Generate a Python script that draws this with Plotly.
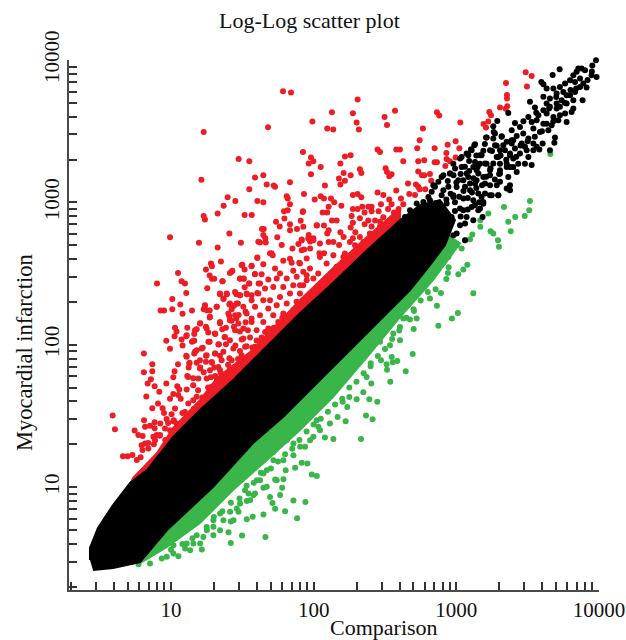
import numpy as np
import plotly.graph_objects as go

# All values are log10 of expression.
red_points = """
1.785,3.781 1.841,3.771 1.991,3.568 1.680,3.528 1.229,3.495 1.925,3.354 1.474,3.305 1.549,3.289 1.981,3.315 1.998,3.289
1.965,3.273 1.981,3.198 1.589,3.174 1.647,3.191 1.213,3.158 1.834,3.141 1.671,3.125 1.720,3.118 1.729,3.109 1.549,3.092
1.932,3.059 1.811,3.043 1.818,3.027 1.397,3.036 2.007,3.020 1.451,3.010 1.605,3.010 1.647,3.001 1.834,2.987 1.369,2.977
1.792,2.938 1.818,2.945 1.925,2.938 1.327,2.921 1.516,2.912 1.566,2.912 1.229,2.905 1.238,2.879 1.795,2.886 1.736,2.863
1.909,2.870 1.834,2.846 2.023,2.837 1.762,2.830 1.638,2.813 1.650,2.813 1.834,2.804 1.883,2.813 1.409,2.781 0.993,2.755
1.647,2.771 1.745,2.755 1.965,2.771 1.661,2.748 1.998,2.748 1.916,2.739
2.308,3.722 2.128,3.633 2.275,3.626 2.570,3.643 2.497,3.600 2.864,3.633 2.880,3.610 3.028,3.561 2.301,3.561 2.514,3.544
2.095,3.518 2.137,3.511 2.317,3.511 2.766,3.518 2.743,3.436 2.995,3.429 2.939,3.404 2.726,3.380 2.848,3.380 3.021,3.380
2.448,3.371 2.465,3.354 2.579,3.371 2.605,3.371 2.930,3.347 2.219,3.322 2.259,3.331 2.733,3.289 2.775,3.296 2.628,3.289
2.848,3.282 2.864,3.282 2.932,3.305 2.955,3.289 2.995,3.315 2.187,3.273 2.923,3.256 2.049,3.249 2.504,3.240 2.324,3.233
2.334,3.207 2.210,3.207 2.514,3.214 2.733,3.216 2.546,3.198 2.530,3.184 2.759,3.191 2.775,3.191 2.815,3.200 2.259,3.191
2.177,3.167 2.219,3.151 2.187,3.125 2.824,3.151 2.661,3.132 2.717,3.125 2.733,3.109 2.743,3.092 2.782,3.092 2.079,3.118
2.579,3.083 2.448,3.069 2.308,3.059 2.275,3.052 2.334,3.036 2.488,3.052 2.670,3.059 2.710,3.052 2.049,3.043 2.072,3.027
2.121,3.027 2.530,3.020 2.612,3.027 2.144,3.000 2.472,2.987 2.546,2.987 2.628,2.987 2.194,2.977 2.105,2.970 2.341,2.970
2.406,2.970 2.383,2.970 2.275,2.954 2.308,2.954 2.521,2.954 2.595,2.954 2.063,2.928 2.095,2.928 2.455,2.938 2.563,2.928
2.586,2.912 2.357,2.928 2.406,2.938 2.266,2.905 2.488,2.895 2.324,2.888 2.128,2.872 2.161,2.872 2.383,2.872 2.430,2.872
2.465,2.863 2.275,2.856 2.072,2.837 2.357,2.846 2.406,2.830 2.259,2.823 2.465,2.830 2.105,2.804 2.187,2.790 2.292,2.790
2.095,2.781 2.210,2.757 2.275,2.748 2.324,2.757 2.394,2.781
1.624,2.718 1.664,2.718 1.776,2.701 1.851,2.676 1.893,2.708 1.916,2.732 1.975,2.725 1.933,2.669 1.998,2.734 2.040,2.643
2.073,2.643 1.704,2.643 1.834,2.603 1.713,2.629 2.105,2.722 2.178,2.701 1.975,2.676
1.196,2.716 1.327,2.683 1.490,2.716 1.612,2.723 1.605,2.610 1.350,2.585 1.280,2.571 1.287,2.552 1.500,2.561 1.565,2.552
1.245,2.528 1.516,2.528 1.430,2.519 1.413,2.503 1.049,2.503 1.588,2.496 1.271,2.486 1.287,2.463 1.303,2.463 1.483,2.463
1.511,2.463 1.074,2.446 1.098,2.430 1.362,2.446 0.902,2.430 1.549,2.430 1.516,2.404 1.254,2.397 1.614,2.430 1.107,2.364
1.343,2.355 1.392,2.355 1.458,2.355 1.483,2.348 1.532,2.355 1.565,2.348 1.605,2.364 1.009,2.322 1.369,2.322 1.065,2.282
1.409,2.282 1.441,2.273 1.469,2.290 1.320,2.266 1.238,2.273 0.927,2.240 0.951,2.240 1.009,2.250 1.147,2.240 1.229,2.250
1.271,2.240 1.425,2.250 1.081,2.217 1.271,2.191 1.409,2.200 1.523,2.231 1.474,2.208 1.565,2.184 1.205,2.151 1.343,2.151
1.425,2.168 1.458,2.184 1.523,2.158 1.028,2.119 1.114,2.119 1.245,2.126 1.180,2.109 1.385,2.119 1.441,2.126 1.039,2.093
1.359,2.109 1.261,2.086 1.163,2.076 1.310,2.076 1.025,2.060 1.107,2.060 1.376,2.053 1.483,2.093 1.539,2.102 0.967,2.027
1.074,2.037 1.147,2.020 1.163,2.027 1.271,2.020 1.507,2.044 1.081,1.994 1.336,2.004 1.385,2.004 1.451,1.994 0.993,1.971
1.222,1.978 1.180,1.962 1.310,1.938 1.163,1.938 0.810,1.938 1.483,1.955 1.107,1.922 1.245,1.922 1.343,1.922 1.409,1.905
0.869,1.863 1.049,1.863 1.130,1.873 1.180,1.873 1.245,1.880 1.287,1.873 1.124,1.840 0.810,1.807 0.869,1.814 1.025,1.814
1.205,1.840 1.303,1.840 1.229,1.807 1.343,1.823 1.016,1.772 1.114,1.781 0.859,1.758 1.278,1.772 1.156,1.765
0.591,1.503 0.607,1.407 0.745,1.397 0.771,1.365 0.801,1.358 0.811,1.470 0.818,1.423 0.853,1.430 0.885,1.456 0.885,1.414
0.925,1.447 0.869,1.554 0.909,1.587 0.941,1.554 0.951,1.521 0.827,1.636 0.993,1.620 0.918,1.669 0.885,1.709 0.836,1.728
0.967,1.728 1.016,1.653 1.044,1.709 1.058,1.685 1.110,1.685 1.051,1.646 1.068,1.620 1.004,1.512 0.969,1.479 1.016,1.463
1.039,1.447 0.876,1.353 0.899,1.365 0.923,1.365 0.818,1.306 0.794,1.294 0.841,1.271 0.888,1.329 0.958,1.411 0.993,1.400
0.663,1.217 0.696,1.217 0.729,1.226 0.787,1.210 1.121,1.587 1.156,1.610 1.098,1.528 1.133,1.505 1.180,1.634 1.028,1.552
1.923,2.933 1.927,2.828 2.021,2.839 1.962,2.746 2.044,2.711 2.138,2.722 2.254,2.722 2.348,2.722 2.430,2.769 1.916,2.664
2.044,2.617 2.138,2.629 2.208,2.617 2.290,2.699 2.360,2.687 1.904,2.570 1.974,2.535 2.091,2.570 2.161,2.547 2.219,2.640
1.951,2.453 2.032,2.500 2.079,2.453 1.904,2.418 1.974,2.359 1.927,2.312
3.061,4.109 3.070,4.085 3.119,4.083 3.528,4.104 3.544,4.092 3.586,4.052 3.462,4.020 3.486,3.914 3.528,3.888 3.495,3.813
3.348,3.839 3.355,3.755 3.355,3.729 3.306,3.666 3.357,3.675 3.346,3.657 3.231,3.635 3.243,3.612 3.224,3.568 3.191,3.551
3.208,3.525
1.605,2.612 1.694,2.641 1.787,2.589 1.846,2.575 1.899,2.575 1.951,2.605 1.495,2.559 1.565,2.554 1.647,2.566 1.729,2.535
1.764,2.500 1.857,2.519 1.927,2.512 1.589,2.495 1.635,2.495 1.425,2.512 1.682,2.458 1.624,2.430 1.547,2.430 1.484,2.465
1.507,2.465 1.360,2.446 1.741,2.465 1.811,2.465 1.881,2.477 1.951,2.488 1.998,2.465 1.449,2.371 1.343,2.360 1.390,2.360
1.530,2.360 1.612,2.360 1.659,2.395 1.717,2.406 1.787,2.406 1.857,2.418 1.927,2.418 1.367,2.324 1.484,2.348 1.565,2.313
1.647,2.313 1.694,2.313 1.764,2.336 1.834,2.360 1.904,2.360 1.413,2.289 1.460,2.289 1.320,2.266 1.238,2.278 1.250,2.242
1.507,2.266 1.589,2.266 1.682,2.254 1.741,2.278 1.811,2.289 1.881,2.301 1.402,2.219 1.449,2.207 1.530,2.219 1.624,2.207
1.717,2.207 1.787,2.219 1.857,2.242 1.273,2.196 1.343,2.160 1.413,2.172 1.472,2.149 1.565,2.160 1.647,2.160 1.752,2.160
1.834,2.196 1.203,2.149 1.250,2.114 1.308,2.079 1.378,2.055 1.449,2.102 1.507,2.114 1.600,2.102 1.682,2.114 1.168,2.102
1.110,2.067 1.156,2.027 1.262,2.020 1.332,2.001 1.413,2.032 1.495,2.036 1.554,2.050 1.635,2.050 1.705,2.055 1.215,1.973
1.168,1.950 1.250,1.926 1.308,1.938 1.367,1.950 1.437,1.973 1.519,1.985 1.589,1.985 1.647,1.997 1.110,1.915 1.128,1.868
1.203,1.891 1.285,1.879 1.355,1.891 1.425,1.891 1.495,1.926 1.565,1.926 1.203,1.833 1.273,1.821 1.332,1.844 1.413,1.833
1.507,1.856 1.121,1.774 1.192,1.762 1.250,1.762 1.320,1.762 1.367,1.751 1.449,1.786 1.156,1.716 1.285,1.704 1.367,1.692
0.76,1.19 0.80,1.26 0.84,1.31 0.88,1.30 0.92,1.36 0.96,1.33 0.98,1.45 1.02,1.47 1.05,1.43 1.08,1.52
1.12,1.50 1.16,1.55 1.19,1.68 1.22,1.63 1.26,1.70 1.28,1.66 1.31,1.78 1.35,1.80 1.38,1.76 1.40,1.86
1.44,1.84 1.47,1.90 1.50,1.88 1.53,1.99 1.57,1.98 1.60,2.03 1.63,2.02 1.66,2.09 1.69,2.07 1.72,2.12
1.75,2.10 1.78,2.19 1.81,2.18 1.84,2.22 1.87,2.21 1.90,2.27 1.93,2.31 1.96,2.29 1.99,2.35 2.02,2.40
2.05,2.38 2.08,2.45 2.11,2.42 2.14,2.50 2.17,2.54 2.20,2.52 2.23,2.58 2.26,2.60 2.29,2.58 2.32,2.64
2.35,2.68 2.38,2.66 2.41,2.72 2.44,2.76 2.47,2.74 2.50,2.80 2.53,2.83 2.56,2.86
"""

green_points = """
3.516,3.010 3.334,2.968 3.511,2.945 3.479,2.905 3.413,2.898 3.364,2.863 3.381,2.797 3.224,2.921 3.168,2.874 3.168,2.828
3.240,2.797 3.259,2.781 3.292,2.734 3.299,2.689 3.112,2.774 3.096,2.741 3.061,2.734 3.037,2.675 3.002,2.699 2.967,2.664
2.944,2.617 3.077,2.561 3.049,2.528 3.014,2.495 2.946,2.544 2.941,2.504 2.930,2.462 2.904,2.570 2.862,2.535 2.815,2.488
3.119,2.362 2.855,2.390 2.892,2.364 2.815,2.324 2.768,2.406 2.722,2.383 2.864,2.273 3.011,2.223 2.969,2.184 2.874,2.134
2.703,2.237 2.722,2.184 2.675,2.177 2.628,2.184 2.701,2.111 2.605,2.125 2.558,2.078 2.605,2.031 2.535,1.996 2.694,1.935
2.465,2.020 2.547,1.914 2.472,1.891 2.511,1.863 2.554,1.877 2.586,1.886 2.514,1.825 2.645,1.814 2.399,1.849 2.371,1.774
2.537,1.739 2.404,1.727 2.348,1.666 2.390,1.617 2.446,1.600 2.301,1.617 2.250,1.633 2.203,1.600 2.236,1.563 2.168,1.493
2.224,1.462 2.367,1.502 2.413,1.476 2.044,1.399 2.079,1.348 2.138,1.338 2.332,1.338 2.114,1.446 2.021,1.469
3.659,3.340
1.662,0.650 1.498,0.660 1.419,0.608 1.403,0.683 1.419,0.758 1.531,0.774 1.573,0.791 1.648,0.807 1.800,0.831 1.884,0.781
1.942,0.896 1.858,0.906 1.730,0.847 1.711,0.889 1.694,0.931 1.765,0.945 1.779,0.995 1.987,1.088 2.022,1.077 1.956,1.166
1.916,1.170 1.870,1.135 1.804,1.119 1.788,1.055 1.730,1.053 1.648,0.995 1.589,0.955 1.531,0.903 1.473,0.826 1.367,0.767
1.297,0.662 1.216,0.561 1.204,0.603 1.134,0.557 1.052,0.514 0.935,0.498 0.853,0.463 0.772,0.458 1.017,0.592 1.110,0.603
1.251,0.697 1.344,0.697 1.438,0.767 1.543,0.955 1.624,1.048 1.718,1.247 1.811,1.329 1.940,1.283 1.998,1.353 1.858,1.224
1.671,1.119
1.297,0.767 1.227,0.650 1.157,0.603 1.297,0.721 1.414,0.826 1.484,0.884 1.578,0.943 1.671,1.002 1.741,1.048 1.554,0.908
1.344,0.814 1.461,0.849 1.648,1.095 1.788,1.189 1.905,1.283 1.975,1.329 2.033,1.423 1.858,1.306 1.718,1.189 1.601,1.048
1.519,0.978 1.017,0.533 0.970,0.510 1.099,0.568 1.180,0.662
1.00,0.56 1.08,0.60 1.15,0.64 1.25,0.72 1.30,0.79 1.36,0.83 1.42,0.89 1.48,0.92 1.53,1.01 1.58,1.03
1.63,1.10 1.70,1.13 1.75,1.18 1.80,1.23 1.85,1.27 1.90,1.33 1.95,1.39 2.00,1.44 2.05,1.48 2.10,1.53
2.15,1.58 2.20,1.62 2.25,1.70 2.30,1.74 2.35,1.80 2.40,1.87 2.45,1.92 2.50,1.97 2.55,2.04 2.60,2.10
2.65,2.19 2.70,2.25 2.75,2.31 2.80,2.37
"""

black_points = """
4.166,4.066 4.019,4.059 3.790,4.010 4.016,4.010 3.979,3.998 3.953,3.961 4.068,3.952 3.724,3.935 3.675,3.895 3.878,3.940
3.843,3.917 3.902,3.928 3.948,3.893 4.007,3.917 3.983,3.881 3.596,3.846 3.610,3.830 3.797,3.858 3.762,3.835 3.726,3.811
3.680,3.799 3.832,3.846 3.867,3.870 3.890,3.835 3.913,3.806 3.610,3.741 3.656,3.729 3.703,3.764 3.516,3.706 3.551,3.666
3.633,3.694 3.738,3.717 3.773,3.694 3.797,3.753 3.832,3.776 3.885,3.717 3.820,3.659 3.762,3.624 3.703,3.659 3.808,3.635
3.364,3.628 3.287,3.572 3.505,3.600 3.575,3.612 3.633,3.624 3.680,3.600 3.715,3.577 3.773,3.565 3.411,3.558 3.388,3.507
3.446,3.530 3.528,3.565 3.610,3.553 3.668,3.542 3.259,3.535 3.271,3.483 3.208,3.455 3.318,3.460 3.423,3.467 3.540,3.518
3.586,3.495 3.645,3.507 3.691,3.455 3.687,3.418 3.605,3.413 3.582,3.371 3.656,3.366 3.505,3.448 3.388,3.413 3.329,3.401
3.283,3.397 3.126,3.401 3.107,3.366 3.084,3.331 3.177,3.331 3.236,3.366 3.306,3.366 3.353,3.425 3.411,3.378 3.481,3.390
3.540,3.413 3.528,3.263 3.481,3.272 3.505,3.319 3.434,3.272 3.399,3.308 3.423,3.214 3.376,3.120 3.376,3.085 3.306,3.144
3.294,3.050 3.248,3.050 3.201,3.062 3.119,3.249 3.026,3.308 2.979,3.272 3.306,3.272 3.236,3.226 3.166,3.272 3.072,3.202
2.909,3.190 2.839,3.120 2.955,3.202 3.049,3.155 3.142,3.155 3.236,3.120 3.189,2.991 3.166,2.956 3.184,2.898 3.119,3.015
3.049,2.945 3.061,2.851 2.979,3.038 2.885,2.991 2.909,3.085 3.002,3.108 2.815,3.015 2.745,2.945 3.096,3.085 3.177,3.038
2.955,2.898 2.862,2.898 3.002,2.781 2.909,2.781 3.061,2.734 2.839,2.687
3.262,3.495 3.318,3.465 3.213,3.455 3.259,3.448 3.271,3.401 3.131,3.408 3.103,3.373 3.072,3.343 3.189,3.362 3.166,3.331
3.388,3.436 3.341,3.366 3.376,3.331 3.294,3.319 3.353,3.273 3.037,3.319 2.991,3.237 2.956,3.202 2.897,3.179 2.874,3.144
2.850,3.109 2.827,3.074 2.804,3.038 2.769,3.003 2.722,2.992 2.675,2.945 2.640,2.898 3.037,3.249 3.131,3.284 3.201,3.273
3.259,3.273 3.306,3.226 3.364,3.179 3.084,3.179 3.154,3.202 3.236,3.191 3.014,3.155 2.944,3.109 3.061,3.109 3.131,3.132
3.201,3.132 3.283,3.120 3.353,3.097 2.897,3.050 2.979,3.050 3.049,3.027 3.154,3.062 3.236,3.050 3.294,3.050 2.850,2.992
2.932,2.992 3.026,2.956 3.107,2.968 3.189,3.003 2.804,2.945 2.897,2.921 2.967,2.898 3.072,2.898 3.154,2.945 2.745,2.921
2.850,2.874 2.944,2.828 3.026,2.839 3.119,2.874 2.687,2.851 2.780,2.828 2.874,2.792 2.979,2.769 2.628,2.828 2.722,2.781
2.815,2.757
3.306,3.202 3.353,3.249 3.399,3.249 3.376,3.343 3.446,3.343 3.493,3.366 3.563,3.390 3.283,3.319 3.212,3.272 3.142,3.226
3.189,3.179 3.096,3.132 3.610,3.647 3.726,3.671 3.773,3.753 3.867,3.811 3.820,3.893 3.855,3.940 3.750,3.776 3.656,3.671
3.563,3.577 3.469,3.483 3.399,3.436 3.633,3.799 3.703,3.694 3.820,3.717 3.633,3.553 3.726,3.612 3.540,3.366 3.458,3.413
3.376,3.249
2.90,2.95 2.93,3.02 2.96,3.06 2.99,3.00 3.02,3.04 3.05,3.08 3.08,3.03 3.11,3.07 3.14,3.10 3.00,3.14
3.03,3.20 3.06,3.25 3.09,3.22 3.12,3.17 3.15,3.25 3.18,3.12 3.21,3.18 3.24,3.24 3.27,3.16 3.30,3.20
2.99,2.94 3.03,2.90 3.08,2.95 3.13,2.98 3.16,3.00 2.94,3.15 2.98,3.19 3.09,3.29 3.14,3.33 3.20,3.41
3.25,3.36 3.31,3.33 3.35,3.30 3.42,3.32 3.45,3.40 3.50,3.43 3.55,3.46 3.60,3.50 3.47,3.57 3.56,3.63
3.65,3.66 3.70,3.74 3.76,3.70 3.84,3.80 3.92,3.86 3.95,3.92 3.80,3.79 3.68,3.57
"""

red_dense = """
0.678,0.944 0.734,1.063 0.902,1.239 1.014,1.414 1.203,1.611 1.322,1.765 1.554,1.948 1.904,2.313 2.135,2.538 2.374,2.756
2.605,2.959 2.605,2.861 1.904,2.208 1.203,1.527 0.713,1.000
"""

green_dense = """
0.783,0.466 0.972,0.579 1.203,0.747 1.434,0.979 1.673,1.190 1.904,1.400 2.135,1.632 2.374,1.913 2.605,2.194 2.836,2.454
2.955,2.615 3.025,2.713 2.885,2.805 0.853,0.698
"""

black_dense = """
0.432,0.487 0.432,0.572 0.488,0.712 0.594,0.874 0.713,1.028 0.832,1.119 1.014,1.351 1.203,1.541 1.434,1.751 1.904,2.222
2.135,2.433 2.374,2.664 2.605,2.875 2.745,2.980 2.885,3.015 2.990,2.875 2.920,2.699 2.815,2.559 2.675,2.383 2.374,2.081
2.135,1.843 1.904,1.611 1.785,1.492 1.575,1.309 1.294,1.000 0.972,0.698 0.783,0.473 0.594,0.431 0.453,0.417
"""

decades = [10, 100, 1000, 10000]
decade_labels = ["10", "100", "1000", "10000"]
title_text = "Log-Log scatter plot"
x_title = "Comparison"
y_title = "Myocardial infarction"

SERIF = "Liberation Serif, Times New Roman, serif"
RED, GREEN, BLACK = "#ee1c25", "#39b54a", "#000000"


def parse(text):
    arr = np.array([p.split(",") for p in text.split()], dtype=float)
    return 10 ** arr[:, 0], 10 ** arr[:, 1]


fig = go.Figure()
for dense, pts, col in [(red_dense, red_points, RED),
                        (green_dense, green_points, GREEN),
                        (black_dense, black_points, BLACK)]:
    dx, dy = parse(dense)
    fig.add_trace(go.Scatter(x=dx, y=dy, mode="lines", fill="toself", fillcolor=col,
                             line=dict(color=col, width=2), cliponaxis=False,
                             hoverinfo="skip", showlegend=False))
    px_, py_ = parse(pts)
    fig.add_trace(go.Scatter(x=px_, y=py_, mode="markers", cliponaxis=False,
                             marker=dict(color=col, size=6, symbol="circle"),
                             showlegend=False))

tickvals = [m * 10 ** e for e in range(0, 4) for m in range(2, 10)] + decades
ticktext = [decade_labels[decades.index(v)] if v in decades else "" for v in tickvals]

axis_common = dict(type="log", showgrid=False, zeroline=False, showline=True, automargin=False,
                   linecolor="#4a4a4a", linewidth=2, ticks="inside", ticklen=8,
                   tickwidth=1.5, tickcolor="#333333", tickmode="array",
                   tickvals=tickvals, ticktext=ticktext,
                   tickfont=dict(family=SERIF, size=21, color="#111111"))

fig.update_layout(
    width=626, height=640, paper_bgcolor="white", plot_bgcolor="white",
    margin=dict(l=69, r=27, t=60, b=50, autoexpand=False),
    xaxis=dict(range=[0.285, 4.0], **axis_common),
    yaxis=dict(range=[0.277, 4.0], tickangle=-90, **axis_common),
)
W, H = 530.0, 530.0
for text, ax_px, ay_px, ang, size in [(title_text, 309, 20, 0, 22), (x_title, 384, 627, 0, 22), (y_title, 24, 353, -90, 22.5)]:
    fig.add_annotation(text=text, x=(ax_px - 69) / W, y=(590 - ay_px) / H,
                       xref="x domain", yref="y domain", showarrow=False, textangle=ang,
                       xanchor="center", yanchor="middle",
                       font=dict(family=SERIF, size=size, color="#111111"))

# Remove the page's default body margin so the 626x640 figure fills the window.
fig.write_html("out.html", config={"displayModeBar": False},
               post_script="document.body.style.margin='0';document.documentElement.style.overflow='hidden';")
